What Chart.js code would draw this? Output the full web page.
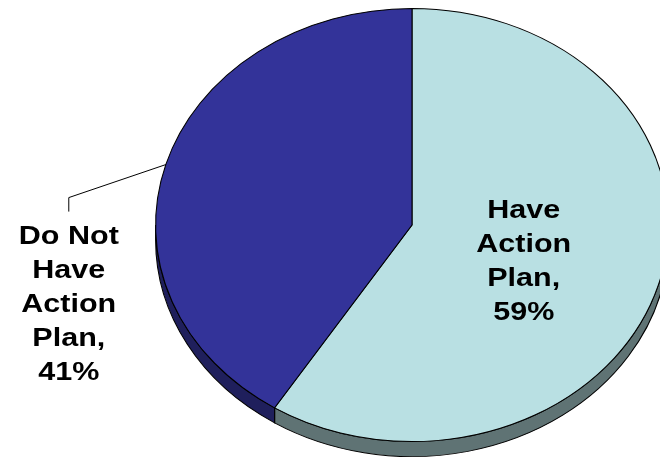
<!DOCTYPE html>
<html>
<head>
<meta charset="utf-8">
<script src="https://cdn.jsdelivr.net/npm/chart.js@4.4.0/dist/chart.umd.min.js"></script>
<style>
  body { margin: 0; background: #fff; }
  #wrap { width: 660px; height: 460px; position: relative; }
</style>
</head>
<body>
<div id="wrap"><canvas id="canvas"></canvas></div>
<script>
/* Data */
const labels = ["Have Action Plan", "Do Not Have Action Plan"];
const shares = [59, 41];
const labelLines = [
  ["Have", "Action", "Plan,", "59%"],
  ["Do Not", "Have", "Action", "Plan,", "41%"],
];
const topColors = ["#b9e0e3", "#333399"];
const sideColors = ["#5f7374", "#1f1f5c"];

/* Stretch of the pie and its depth */
const stretchX = 1.184;
const depth = 15;

/* Side of the pie + horizontal stretch */
const tiltPlugin = {
  id: "tilt",
  beforeDatasetsDraw(chart) {
    const ctx = chart.ctx;
    const arcs = chart.getDatasetMeta(0).data;
    const cx = arcs[0].x;
    ctx.save();
    ctx.translate(cx, 0);
    ctx.scale(stretchX, 1);
    ctx.translate(-cx, 0);
    arcs.forEach((arc, i) => {
      const p = arc.getProps(["x", "y", "startAngle", "endAngle", "outerRadius"]);
      // only the front half (0..PI) can be seen
      let a0 = Math.max(p.startAngle, 0);
      let a1 = Math.min(p.endAngle, Math.PI);
      if (p.endAngle > 2 * Math.PI) {
        a0 = Math.max(p.startAngle - 2 * Math.PI, 0);
        a1 = Math.min(p.endAngle - 2 * Math.PI, Math.PI);
      }
      if (a1 <= a0) return;
      ctx.beginPath();
      ctx.arc(p.x, p.y, p.outerRadius, a0, a1);
      ctx.arc(p.x, p.y + depth, p.outerRadius, a1, a0, true);
      ctx.closePath();
      ctx.fillStyle = sideColors[i];
      ctx.fill();
      ctx.lineWidth = 0.9;
      ctx.strokeStyle = "#000";
      ctx.stroke();
    });
  },
  afterDatasetsDraw(chart) {
    chart.ctx.restore();
  },
  afterDraw(chart) {
    const ctx = chart.ctx;
    const arcs = chart.getDatasetMeta(0).data;
    const lineGap = 34;
    ctx.save();
    ctx.fillStyle = "#000";
    ctx.font = "bold 26px 'Liberation Sans', Arial, sans-serif";
    ctx.textAlign = "center";
    ctx.textBaseline = "middle";

    const drawLines = (lines, x, yMid) => {
      lines.forEach((t, k) => {
        const y = yMid + (k - (lines.length - 1) / 2) * lineGap;
        ctx.save();
        ctx.translate(x, y);
        ctx.scale(stretchX - 0.01, 1);
        ctx.fillText(t, 0, 0);
        ctx.restore();
      });
    };

    /* Inside label for the big slice */
    const a = arcs[0].getProps(["x", "y", "startAngle", "endAngle", "outerRadius"]);
    const mid0 = (a.startAngle + a.endAngle) / 2;
    const r0 = a.outerRadius * 0.47;
    drawLines(labelLines[0],
      a.x + Math.cos(mid0) * r0 * stretchX - 4,
      a.y + Math.sin(mid0) * r0 + 8);

    /* Outside label with leader line for the small slice */
    const b = arcs[1].getProps(["x", "y", "startAngle", "endAngle", "outerRadius"]);
    const mid1 = (b.startAngle + b.endAngle) / 2;
    const ex = b.x + Math.cos(mid1) * b.outerRadius * stretchX;
    const ey = b.y + Math.sin(mid1) * b.outerRadius;
    const kx = ex - 97;
    const ky = ey + 33;
    ctx.beginPath();
    ctx.moveTo(ex, ey);
    ctx.lineTo(kx, ky);
    ctx.lineTo(kx, ky + 14);
    ctx.lineWidth = 1;
    ctx.strokeStyle = "#000";
    ctx.stroke();
    drawLines(labelLines[1], kx, ky + 107);
    ctx.restore();
  },
};

const ctx = document.getElementById("canvas").getContext("2d");
window.myChart = new Chart(ctx, {
  type: "pie",
  data: {
    labels: labels,
    datasets: [
      {
        data: shares,
        backgroundColor: topColors,
        borderColor: "#000",
        borderWidth: 0.9,
        clip: false,
      },
    ],
  },
  options: {
    responsive: true,
    maintainAspectRatio: false,
    animation: false,
    events: [],
    layout: {
      padding: { left: 195, right: 31, top: 8, bottom: 18 },
    },
    plugins: {
      legend: { display: false },
      tooltip: { enabled: false },
    },
  },
  plugins: [tiltPlugin],
});
</script>
</body>
</html>
